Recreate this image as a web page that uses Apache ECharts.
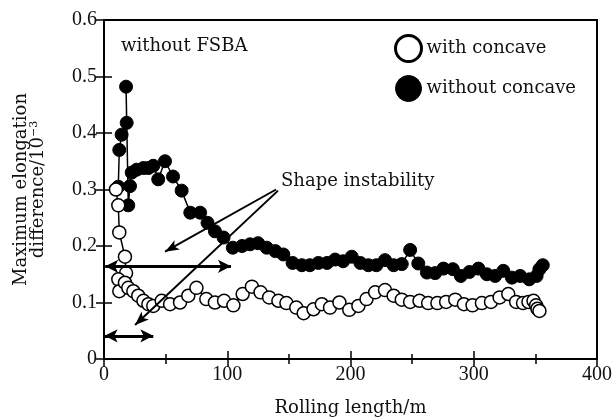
<!DOCTYPE html>
<html>
<head>
<meta charset="utf-8">
<script src="https://cdn.jsdelivr.net/npm/echarts@6/dist/echarts.min.js"></script>
<style>html,body{margin:0;padding:0;background:#fff}#c{width:613px;height:418px}</style>
</head>
<body>
<div id="c"></div>
<script>
// ---- data ----
var withConcave = [
  [9.7,0.300],[11.6,0.272],[12.4,0.224],[17.0,0.181],[17.9,0.152],[11.6,0.141],[12.4,0.120],
  [17.0,0.135],[19.7,0.126],[23.8,0.120],[27.8,0.112],[32.0,0.103],[36.0,0.097],[40.0,0.094],
  [46.8,0.103],[53.6,0.097],[61.7,0.100],[68.4,0.112],[75.0,0.126],[83.0,0.106],[90.0,0.100],
  [97.4,0.103],[105.0,0.095],[112.5,0.115],[120.0,0.128],[127.0,0.118],[134.0,0.109],[141.5,0.103],
  [148.0,0.099],[156.0,0.091],[162.0,0.081],[170.0,0.088],[176.7,0.097],[183.4,0.091],[191.0,0.100],
  [199.0,0.087],[206.4,0.094],[213.0,0.106],[220.0,0.118],[228.0,0.122],[235.0,0.112],[241.6,0.105],
  [248.4,0.101],[256.0,0.103],[263.0,0.099],[270.5,0.099],[277.6,0.101],[285.0,0.105],[292.0,0.097],
  [299.0,0.095],[306.6,0.099],[314.0,0.101],[321.0,0.109],[328.0,0.115],[334.4,0.101],[340.0,0.099],
  [344.4,0.101],[348.5,0.103],[350.6,0.095],[351.7,0.089],[353.3,0.085]
];
var withoutConcave = [
  [11.6,0.305],[12.4,0.370],[14.3,0.397],[18.4,0.418],[17.9,0.482],[19.7,0.272],[21.1,0.306],
  [22.5,0.330],[26.5,0.335],[32.0,0.338],[36.0,0.338],[40.0,0.342],[44.0,0.318],[49.5,0.350],
  [56.0,0.323],[63.0,0.298],[70.0,0.259],[78.0,0.259],[84.0,0.241],[90.0,0.226],[97.0,0.215],
  [104.5,0.197],[112.0,0.200],[118.5,0.203],[125.0,0.205],[132.0,0.197],[139.0,0.191],[145.5,0.185],
  [153.0,0.170],[160.5,0.166],[167.0,0.166],[174.0,0.170],[181.0,0.170],[187.5,0.176],[194.0,0.173],
  [201.0,0.181],[208.0,0.170],[214.5,0.166],[221.0,0.166],[228.0,0.175],[235.0,0.166],[241.6,0.168],
  [248.4,0.193],[255.0,0.169],[262.0,0.153],[268.7,0.152],[275.4,0.160],[283.0,0.159],[289.5,0.147],
  [296.5,0.154],[303.8,0.160],[310.6,0.150],[317.4,0.147],[324.0,0.156],[331.0,0.144],[337.7,0.147],
  [345.0,0.141],[351.0,0.147],[353.3,0.159],[356.0,0.166]
];
// annotation arrows (data coordinates)
var instabilityArrows = [
  [[139.6,0.300],[49.5,0.190]],
  [[141.2,0.298],[25.2,0.060]]
];
var rangeArrows = [
  [[1.0,0.164],[103.0,0.164]],
  [[0.5,0.041],[40.0,0.041]]
];
var seriesNames = ['with concave','without concave'];
var xTicks = {min:0,max:400,interval:100};
var yTicks = {min:0,max:0.6,interval:0.1};

var FONT = 'DejaVu Serif';
var NUMFONT = 'Liberation Serif';
var chart = echarts.init(document.getElementById('c'), null, {renderer:'canvas'});

var markLineData = [];
instabilityArrows.forEach(function(a){
  markLineData.push([{coord:a[0],symbol:'none'},{coord:a[1],symbol:'arrow',symbolSize:[8,14]}]);
});
rangeArrows.forEach(function(a){
  markLineData.push([{coord:a[0],symbol:'arrow',symbolSize:[10,13],lineStyle:{width:3}},{coord:a[1],symbol:'arrow',symbolSize:[10,13],lineStyle:{width:3}}]);
});

var tickX = {show:true,inside:true,length:8,lineStyle:{color:'#000',width:1.5}};
var minorX = {show:true,splitNumber:2,length:5,lineStyle:{color:'#000',width:1.5}};
var tickY = {show:true,inside:true,length:8,lineStyle:{color:'#000',width:1.5}};

var option = {
  animation:false,
  grid:{left:104,right:16,top:20,bottom:59,outerBoundsMode:'none',containLabel:false,
    show:true,borderColor:'#000',borderWidth:2,backgroundColor:'transparent'},
  legend:{
    orient:'vertical',left:389,top:29,itemWidth:26,itemHeight:26,itemGap:12,
    textStyle:{fontFamily:FONT,fontSize:18,color:'#111'},
    data:[
      {name:seriesNames[0],icon:'circle',itemStyle:{color:'#fff',borderColor:'#000',borderWidth:3}},
      {name:seriesNames[1],icon:'circle',itemStyle:{color:'#000',borderColor:'#000',borderWidth:1}}
    ]
  },
  xAxis:[{
    type:'value',min:xTicks.min,max:xTicks.max,interval:xTicks.interval,
    name:'Rolling length/m',nameLocation:'middle',nameGap:40,
    nameTextStyle:{fontFamily:FONT,fontSize:18,color:'#111'},
    axisLine:{show:true,lineStyle:{color:'#000',width:2}},
    axisTick:tickX,minorTick:minorX,
    axisLabel:{fontFamily:NUMFONT,fontSize:20,color:'#111',margin:6},
    splitLine:{show:false},minorSplitLine:{show:false}
  },{
    type:'value',position:'top',min:xTicks.min,max:xTicks.max,interval:xTicks.interval,
    axisLine:{show:true,lineStyle:{color:'#000',width:2}},
    axisTick:tickX,minorTick:minorX,
    axisLabel:{show:false},splitLine:{show:false},minorSplitLine:{show:false}
  }],
  yAxis:[{
    type:'value',min:yTicks.min,max:yTicks.max,interval:yTicks.interval,
    name:'Maximum elongation\ndifference/10{sup|−3}',nameLocation:'middle',nameGap:57,nameRotate:90,
    nameTextStyle:{fontFamily:FONT,fontSize:18,color:'#111',lineHeight:17,align:'center',
      rich:{sup:{fontFamily:FONT,fontSize:11,color:'#111',padding:[0,0,9,0]}}},
    axisLine:{show:true,lineStyle:{color:'#000',width:2}},
    axisTick:tickY,
    axisLabel:{fontFamily:NUMFONT,fontSize:20,color:'#111',margin:7,
      formatter:function(v){return Math.abs(v)<1e-9?'0':v.toFixed(1);}},
    splitLine:{show:false}
  },{
    type:'value',position:'right',min:yTicks.min,max:yTicks.max,interval:yTicks.interval,
    axisLine:{show:true,lineStyle:{color:'#000',width:2}},
    axisTick:tickY,
    axisLabel:{show:false},splitLine:{show:false}
  }],
  graphic:[
    {type:'text',left:121,top:37,style:{text:'without FSBA',fontFamily:FONT,fontSize:18,fill:'#111'}},
    {type:'text',left:281,top:172,style:{text:'Shape instability',fontFamily:FONT,fontSize:18,fill:'#111'}}
  ],
  series:[
    {
      name:seriesNames[1],type:'line',data:withoutConcave,
      symbol:'circle',symbolSize:13,showSymbol:true,
      lineStyle:{color:'#000',width:1.5},
      itemStyle:{color:'#000',borderColor:'#000',borderWidth:1},
      emphasis:{disabled:true},z:2,
      markLine:{silent:true,animation:false,label:{show:false},
        lineStyle:{color:'#000',width:2,type:'solid'},
        emphasis:{disabled:true},
        data:markLineData}
    },
    {
      name:seriesNames[0],type:'line',data:withConcave,
      symbol:'circle',symbolSize:13,showSymbol:true,
      lineStyle:{color:'#000',width:1.5},
      itemStyle:{color:'#fff',borderColor:'#000',borderWidth:1.5},
      emphasis:{disabled:true},z:3
    }
  ]
};
chart.setOption(option);
</script>
</body>
</html>
